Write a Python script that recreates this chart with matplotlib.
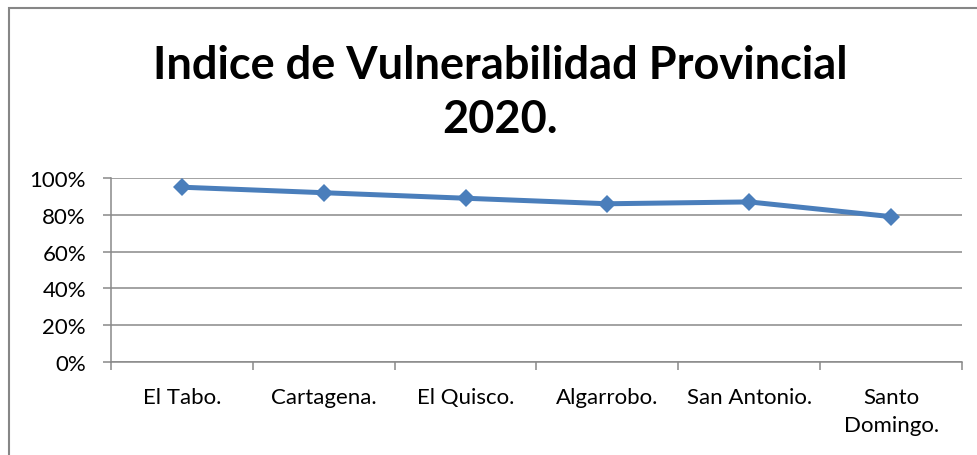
import numpy as np
import matplotlib
matplotlib.use('Agg')
from matplotlib import pyplot as plt
from matplotlib.patches import Rectangle

categories = ['El Tabo.', 'Cartagena.', 'El Quisco.', 'Algarrobo.', 'San Antonio.', 'Santo\nDomingo.']
values = [0.95, 0.92, 0.89, 0.86, 0.87, 0.79]
y_ticks = [0.0, 0.2, 0.4, 0.6, 0.8, 1.0]
y_labels = ['0%', '20%', '40%', '60%', '80%', '100%']

plt.rcParams['font.family'] = ['Lato', 'DejaVu Sans']
line_color = '#4A7EBB'
grid_color = '#898989'

fig = plt.figure(figsize=(9.77, 4.56), dpi=100)
fig.patch.set_facecolor('white')
ax = fig.add_axes([111/977, 1 - 363/456, 851/977, 184/456])

x = np.arange(len(categories))
ax.plot(x, values, color=line_color, linewidth=3.6, marker='D', markersize=9.5,
        markerfacecolor=line_color, markeredgewidth=0, zorder=3, clip_on=False)

ax.set_xlim(-0.5, len(categories) - 0.5)
ax.set_ylim(0, 1)
ax.set_yticks(y_ticks)
ax.set_yticklabels(y_labels, fontsize=16, color='black')
ax.set_xticks(x)
ax.set_xticklabels(categories, fontsize=16, color='black', linespacing=1.5, va='top')
ax.set_xticks(np.arange(-0.5, len(categories)), minor=True)

ax.grid(axis='y', color=grid_color, linewidth=1.1, zorder=0)
ax.tick_params(axis='y', which='major', length=6, width=1.1, color=grid_color, pad=12)
ax.tick_params(axis='x', which='major', length=0, pad=18)
ax.tick_params(axis='x', which='minor', length=6, width=1.1, color=grid_color)

for side in ['top', 'right']:
    ax.spines[side].set_visible(False)
for side in ['left', 'bottom']:
    ax.spines[side].set_color(grid_color)
    ax.spines[side].set_linewidth(1.1)

fig.text(500/977, 1 - 66/456, 'Indice de Vulnerabilidad Provincial', ha='center', va='center',
         fontsize=32.5, fontweight='bold')
fig.text(500/977, 1 - 120/456, '2020.', ha='center', va='center', fontsize=32.5, fontweight='bold')

# outer chart border (left and top visible)
fig.patches.append(Rectangle((9/977, -0.1), 1.2, 1 - 9/456 + 0.1, transform=fig.transFigure,
                             fill=False, edgecolor='#868686', linewidth=1.5))

fig.savefig('out.png', dpi=100, facecolor='white')
